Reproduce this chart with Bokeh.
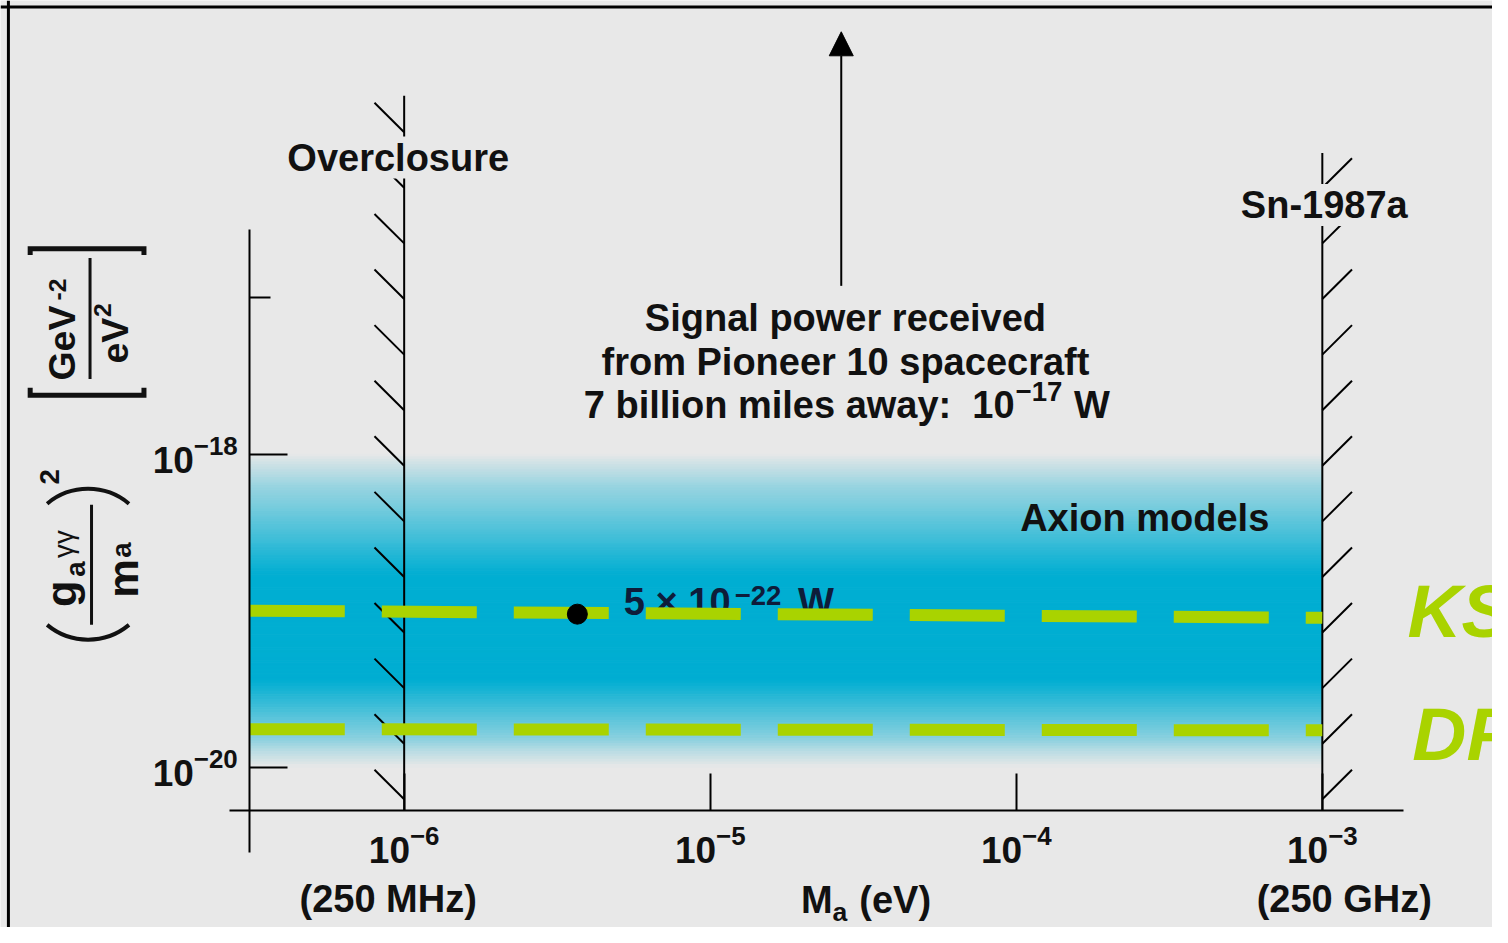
import math
import numpy as np
from bokeh.plotting import figure
from bokeh.models import LogAxis, FixedTicker, Label, Arrow, NormalHead, Range1d, Span
from bokeh.embed import file_html
from bokeh.resources import INLINE

# ---------------- data ----------------
mass_ticks = [1e-6, 1e-5, 1e-4, 1e-3]            # M_a (eV)
freq_tick_mass = [1e-6, 1e-3]
freq_tick_text = ["(250 MHz)", "(250 GHz)"]
coupling_ticks = [1e-20, 1e-18]                  # (g/m)^2  GeV^-2 eV^-2
coupling_minor_ticks = [1e-17]
overclosure_mass = 1e-6
sn1987a_mass = 1e-3
overclosure_top = 1.95e-16
sn1987a_top = 8.4e-17
axis_mass_min = 3.13e-7
axis_g_min = 2.84e-21
axis_g_max = 2.72e-17
xaxis_g = 5.28e-21
band_g = [1e-20, 1e-18]                           # axion models band
ksvz_mass = [3.13e-7, 1e-3]
ksvz_g = [1.0e-19, 9.0e-20]
dfsz_mass = [3.13e-7, 1e-3]
dfsz_g = [1.75e-20, 1.72e-20]
pioneer_mass = [3.68e-6]
pioneer_g = [9.5e-20]
arrow_mass = 2.68e-5
arrow_g = [1.19e-17, 5.0e-16]

# ---------------- geometry (reference-picture pixels -> data) ----------------
W, H = 1492, 927
REF_W, REF_H = 1508, 943
DEC_X = 309.333   # px per decade of mass
DEC_Y = 159.2     # px per decade of coupling
X_REF = 408.0     # x of 1e-6
Y_REF = 461.5     # y of 1e-18


def lx(px):
    return -6 + (px - X_REF) / DEC_X


def ly(py):
    return -18 - (py - Y_REF) / DEC_Y


def X(px):
    return 10 ** lx(px)


def Y(py):
    return 10 ** ly(py)


S = 0.986
BASE_FIX = 0.31   # baseline correction (fraction of font size)
BG = "#e8e8e8"
INK = "#111111"
NAVY = "#0e1c3a"
GREEN = "#a9d300"
FONT = "Liberation Sans"

p = figure(width=W, height=H, x_axis_type="log", y_axis_type="log",
           x_range=Range1d(X(0), X(REF_W)), y_range=Range1d(Y(REF_H), Y(0)),
           x_axis_location=None, y_axis_location=None,
           toolbar_location=None, output_backend="svg",
           min_border_left=0, min_border_top=0, min_border_right=0, min_border_bottom=0)
p.border_fill_color = BG
p.background_fill_color = BG
p.outline_line_color = None
p.grid.visible = False

# frame border of the picture
p.add_layout(Span(location=X(8), dimension="height", line_color="black", line_width=3))
p.add_layout(Span(location=Y(6.5), dimension="width", line_color="black", line_width=3))

# ---------------- axion band gradient ----------------
t_knots = [0, .028, .06, .107, .155, .218, .281, .344, .391, .722, .770, .817, .864, .912, .95, .981, 1.0]
w_knots = [0, .1, .2, .35, .45, .6, .75, .9, 1, 1, .85, .7, .55, .4, .2, .08, 0]
N = 120
hi, lo = math.log10(band_g[1]), math.log10(band_g[0])
edges = np.linspace(hi, lo, N + 1)
bgc = np.array([232, 232, 232])
blue = np.array([0, 174, 210])
cols = []
for i in range(N):
    t = (i + 0.5) / N
    w = float(np.interp(t, t_knots, w_knots))
    c = (bgc * (1 - w) + blue * w).round().astype(int)
    cols.append("#%02x%02x%02x" % tuple(c))
p.quad(left=[axis_mass_min] * N, right=[sn1987a_mass] * N,
       top=list(10 ** edges[:-1]), bottom=list(10 ** edges[1:]),
       fill_color=cols, line_color=cols, line_width=1, level="image")

# ---------------- boundaries ----------------
p.segment(x0=[overclosure_mass, sn1987a_mass], y0=[xaxis_g, xaxis_g],
          x1=[overclosure_mass, sn1987a_mass], y1=[overclosure_top, sn1987a_top],
          line_color="black", line_width=2)

hstep = 56.55 / DEC_Y
hdx = 30 / DEC_X
hdy = 30 / DEC_Y
h0 = ly(104)
hx0, hy0, hx1, hy1 = [], [], [], []
lo_m = math.log10(overclosure_mass)
for k in range(13):
    h = h0 - k * hstep
    hx0.append(10 ** (lo_m - hdx)); hy0.append(10 ** h)
    hx1.append(overclosure_mass); hy1.append(10 ** (h - hdy))
ls_m = math.log10(sn1987a_mass)
for k in range(1, 13):
    h = h0 - k * hstep
    hx0.append(sn1987a_mass); hy0.append(10 ** (h - hdy))
    hx1.append(10 ** (ls_m + hdx)); hy1.append(10 ** h)
p.segment(x0=hx0, y0=hy0, x1=hx1, y1=hy1, line_color="black", line_width=2)

# ---------------- axes ----------------
xaxis = LogAxis(fixed_location=xaxis_g, bounds=(X(231), X(1418)),
                ticker=FixedTicker(ticks=mass_ticks, minor_ticks=[]),
                major_tick_in=37, major_tick_out=0, minor_tick_line_color=None,
                axis_line_color="black", axis_line_width=2,
                major_tick_line_color="black", major_tick_line_width=2,
                major_label_text_font=FONT, major_label_text_font_style="bold",
                major_label_text_font_size="37px", major_label_text_color=INK,
                major_label_standoff=14)
p.add_layout(xaxis, "below")

yaxis = LogAxis(fixed_location=axis_mass_min, bounds=(axis_g_min, axis_g_max),
                ticker=FixedTicker(ticks=coupling_ticks, minor_ticks=coupling_minor_ticks),
                major_tick_in=38, major_tick_out=0,
                minor_tick_in=21, minor_tick_out=0,
                axis_line_color="black", axis_line_width=2,
                major_tick_line_color="black", major_tick_line_width=2,
                minor_tick_line_color="black", minor_tick_line_width=2,
                major_label_text_font=FONT, major_label_text_font_style="bold",
                major_label_text_font_size="37px", major_label_text_color=INK,
                major_label_standoff=12)
p.add_layout(yaxis, "left")

# ---------------- model lines ----------------
p.line(ksvz_mass, ksvz_g, line_color=GREEN, line_width=12, line_dash="95 37")
p.line(dfsz_mass, dfsz_g, line_color=GREEN, line_width=12, line_dash="95 37")

p.scatter(pioneer_mass, pioneer_g, size=20, color="black")

p.add_layout(Arrow(end=NormalHead(size=24, fill_color="black", line_color="black"),
                   x_start=arrow_mass, y_start=arrow_g[0],
                   x_end=arrow_mass, y_end=arrow_g[1],
                   line_color="black", line_width=2))


# ---------------- texts ----------------
def lab(px, py, text, size, align="left", angle=0.0, style="bold", color=INK,
        font=FONT, xdata=None, **kw):
    if angle == 0.0:
        py = py - BASE_FIX * size
    else:
        px = px - BASE_FIX * size
    p.add_layout(Label(x=X(px) if xdata is None else xdata, y=Y(py), text=text,
                       text_font=font, text_font_size=f"{size * S:.1f}px",
                       text_font_style=style, text_color=color, text_align=align,
                       text_baseline="alphabetic", angle=angle, **kw))


lab(402, 171.7, "Overclosure", 38.5, align="center", background_fill_color=BG)
lab(1338, 220, "Sn-1987a", 38.5, align="center", background_fill_color=BG)
lab(854, 335, "Signal power received", 38.5, align="center")
lab(854, 380, "from Pioneer 10 spacecraft", 38.5, align="center")
lab(1025, 423, "7 billion miles away:\u00a0\u00a010", 38.5, align="right")
lab(1026, 406, "\u221217", 28)
lab(1085, 423, "W", 38.5)
lab(1156.5, 538, "Axion models", 38.5, align="center")
lab(630, 624, "5 \u00d7 10", 38.5, color=NAVY, level="underlay")
lab(742, 614, "\u221222", 28, color=NAVY, level="underlay")
lab(806, 624, "W", 38.5, color=NAVY, level="underlay")

for m, t, off in zip(freq_tick_mass, freq_tick_text, [-16, 22]):
    lab(0, 926, t, 38.5, align="center", xdata=m, x_offset=off)

lab(809, 927, "M", 38.5)
lab(841, 936, "a", 27)
lab(868, 927, "(eV)", 38.5)

lab(1422, 645, "KSVZ", 76, style="bold italic", color=GREEN)
lab(1427, 770, "DFSZ", 76, style="bold italic", color=GREEN)

# rotated y-axis title
R = math.pi / 2
lab(75, 603.5, "g", 44, align="center", angle=R)
lab(84, 578.5, "a", 28, align="center", angle=R)
lab(72, 553, "\u03b3\u03b3", 28, align="center", angle=R, style="normal")
lab(137, 588, "m", 44, align="center", angle=R)
lab(131, 559, "a", 28, align="center", angle=R)
lab(58, 484.5, "2", 28, align="center", angle=R)
lab(74, 348.5, "GeV", 38, align="center", angle=R)
lab(65, 294, "-2", 25, align="center", angle=R)
lab(128, 346, "eV", 38, align="center", angle=R)
lab(111, 315, "2", 25, align="center", angle=R)

# fraction bars, parentheses and brackets of the y title
p.segment(x0=[X(92), X(90.5)], y0=[Y(513), Y(262)], x1=[X(92), X(90.5)], y1=[Y(635), Y(385)],
          line_color=INK, line_width=3)
r_par = 64.9 * S
half = math.asin(41.5 / 64.9)
p.arc(x=[X(88.5)], y=[Y(497 + 64.9)], radius=r_par, radius_units="screen",
      start_angle=math.pi / 2 - half, end_angle=math.pi / 2 + half,
      line_color=INK, line_width=4)
p.arc(x=[X(88.5)], y=[Y(650 - 64.9)], radius=r_par, radius_units="screen",
      start_angle=3 * math.pi / 2 - half, end_angle=3 * math.pi / 2 + half,
      line_color=INK, line_width=4)
p.multi_line(xs=[[X(30), X(30), X(145), X(145)], [X(30), X(30), X(145), X(145)]],
             ys=[[Y(259), Y(252.5), Y(252.5), Y(259)], [Y(394), Y(401.5), Y(401.5), Y(394)]],
             line_color=INK, line_width=5, line_join="miter")

open("out.html", "w").write(file_html(p, INLINE))
